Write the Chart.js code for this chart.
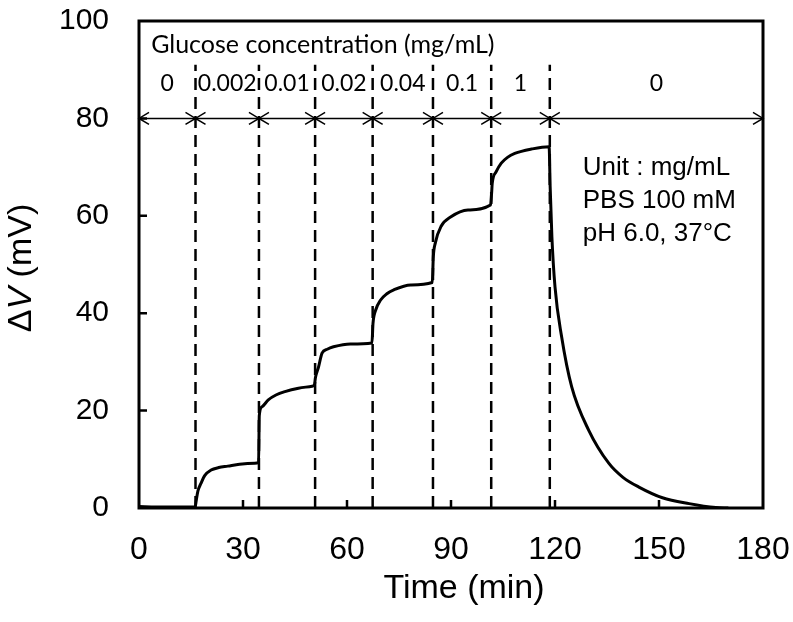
<!DOCTYPE html>
<html>
<head>
<meta charset="utf-8">
<script src="https://cdn.jsdelivr.net/npm/chart.js@4.4.1/dist/chart.umd.min.js"></script>
<style>
  html, body { margin: 0; padding: 0; background: #fff; }
  #wrap { width: 793px; height: 622px; }
</style>
</head>
<body>
<div id="wrap"><canvas id="sensorChart" width="793" height="622"></canvas></div>
<script>
const ARIAL = "'Liberation Sans', Arial, sans-serif";
const CALIBRI = "Lato, 'Open Sans', sans-serif";

// response curve (time in min, dV in mV)
const timeMin = [
  0, 5, 10, 16.2, 16.5, 17.0, 17.9, 19.0, 20.8, 23.0, 25.6, 29.0, 33.4, 34.5,
  34.7, 35.5, 37.3, 39.5, 42.1, 46.0, 49.9, 50.6,
  50.9, 51.8, 52.8, 54.3, 56.1, 61.0, 67.2,
  67.5, 68.2, 69.7, 71.5, 73.5, 78.4, 84.6,
  84.9, 85.5, 87.1, 90.0, 94.9, 101.4,
  101.7, 101.9, 103.0, 104.5, 106.3, 108.4, 113.2, 118.3,
  118.6, 119.1, 120.0, 121.9, 124.8, 129.7, 135.5, 139.6, 144.2, 151.0, 158.7, 166.4, 170.0
];
const deltaV = [
  0.3, 0.2, 0.2, 0.2, 1.5, 3.5, 5.1, 6.7, 7.8, 8.3, 8.6, 9.0, 9.2, 9.3,
  19.0, 20.8, 22.2, 23.2, 23.9, 24.6, 25.0, 25.3,
  26.8, 29.0, 31.8, 32.6, 33.1, 33.7, 33.9,
  37.9, 40.5, 42.7, 44.0, 44.8, 45.8, 46.3,
  51.6, 54.5, 57.8, 59.8, 61.2, 62.2,
  64.5, 66.7, 69.0, 70.8, 72.0, 72.8, 73.7, 74.2,
  66.0, 55.7, 45.4, 35.2, 24.9, 16.0, 9.2, 6.3, 4.3, 2.1, 0.9, 0.1, 0.0
];

// glucose additions (min) and concentration labels (mg/mL)
const additionTimes = [16.3, 34.6, 50.8, 67.4, 84.8, 101.6, 118.5];
const segmentEdges = [0, 16.3, 34.6, 50.8, 67.4, 84.8, 101.6, 118.5, 180];
const concLabels = ['0', '0.002', '0.01', '0.02', '0.04', '0.1', '1', '0'];
const conditionLines = ['Unit : mg/mL', 'PBS 100 mM', 'pH 6.0, 37\u00B0C'];

const xTicks = [0, 30, 60, 90, 120, 150, 180];
const yTicks = [0, 20, 40, 60, 80, 100];

const arrowLevel = 80;
const dashTop = 91;

const curve = timeMin.map((t, i) => ({ x: t, y: deltaV[i] }));

const dashSets = additionTimes.map(t => ({
  data: [{ x: t, y: 0 }, { x: t, y: dashTop }],
  borderColor: '#000',
  borderWidth: 2.5,
  borderDash: [12, 7],
  pointRadius: 0,
  fill: false
}));

const decorPlugin = {
  id: 'decor',
  beforeDraw(chart) {
    const c = chart.ctx;
    c.save();
    c.fillStyle = '#fff';
    c.fillRect(0, 0, chart.width, chart.height);
    c.restore();
  },
  afterDraw(chart) {
    const c = chart.ctx;
    const xs = chart.scales.x, ys = chart.scales.y;
    const a = chart.chartArea;
    c.save();

    // frame
    c.strokeStyle = '#000';
    c.lineWidth = 3;
    c.strokeRect(a.left, a.top, a.right - a.left, a.bottom - a.top);

    // inward ticks
    c.lineWidth = 2.5;
    c.beginPath();
    xTicks.slice(1, -1).forEach(v => {
      const px = xs.getPixelForValue(v);
      c.moveTo(px, a.bottom);
      c.lineTo(px, a.bottom - 8);
    });
    yTicks.slice(1, -1).forEach(v => {
      const py = ys.getPixelForValue(v);
      c.moveTo(a.left, py);
      c.lineTo(a.left + 8, py);
    });
    c.stroke();

    // arrow heads on the concentration row
    const ay = ys.getPixelForValue(arrowLevel);
    c.lineWidth = 1.5;
    c.beginPath();
    for (let i = 0; i < segmentEdges.length - 1; i++) {
      const l = xs.getPixelForValue(segmentEdges[i]);
      const r = xs.getPixelForValue(segmentEdges[i + 1]);
      c.moveTo(l + 10, ay - 6); c.lineTo(l, ay); c.lineTo(l + 10, ay + 6);
      c.moveTo(r - 10, ay - 6); c.lineTo(r, ay); c.lineTo(r - 10, ay + 6);
    }
    c.stroke();

    // concentration labels
    c.fillStyle = '#000';
    c.font = '23px ' + CALIBRI;
    c.textAlign = 'center';
    c.textBaseline = 'middle';
    const ly = ys.getPixelForValue(87.1);
    concLabels.forEach((lab, i) => {
      const mid = (segmentEdges[i] + segmentEdges[i + 1]) / 2;
      c.fillText(lab, xs.getPixelForValue(mid), ly);
    });
    c.textAlign = 'left';
    c.font = '25px ' + CALIBRI;
    c.fillText('Glucose concentration (mg/mL)', xs.getPixelForValue(3.5), ys.getPixelForValue(95.1));

    // conditions
    c.font = '26px ' + ARIAL;
    conditionLines.forEach((s, i) => {
      c.fillText(s, xs.getPixelForValue(128), ys.getPixelForValue(69.8 - i * 6.8));
    });

    // axis titles
    c.textAlign = 'center';
    c.font = '34px ' + ARIAL;
    c.fillText('Time (min)', 464, 589);

    c.translate(22, 268);
    c.rotate(-Math.PI / 2);
    const parts = [
      { t: '\u0394', f: '34px ' + ARIAL },
      { t: 'V', f: 'italic 34px ' + ARIAL },
      { t: ' (mV)', f: '34px ' + ARIAL }
    ];
    let total = 0;
    parts.forEach(p => { c.font = p.f; p.w = c.measureText(p.t).width; total += p.w; });
    let px = -total / 2;
    c.textAlign = 'left';
    parts.forEach(p => { c.font = p.f; c.fillText(p.t, px, 0); px += p.w; });

    c.restore();
  }
};

new Chart(document.getElementById('sensorChart'), {
  type: 'line',
  data: {
    datasets: [
      {
        data: curve,
        borderColor: '#000',
        borderWidth: 3,
        pointRadius: 0,
        fill: false,
        cubicInterpolationMode: 'monotone'
      },
      ...dashSets,
      {
        data: [{ x: 0, y: arrowLevel }, { x: 180, y: arrowLevel }],
        borderColor: '#000',
        borderWidth: 1.5,
        pointRadius: 0,
        fill: false
      }
    ]
  },
  options: {
    responsive: false,
    animation: false,
    events: [],
    layout: { padding: { left: 0, right: 30, top: 21, bottom: 0 } },
    plugins: { legend: { display: false }, tooltip: { enabled: false } },
    scales: {
      x: {
        type: 'linear',
        min: 0, max: 180,
        grid: { display: false, drawTicks: false },
        border: { display: false },
        ticks: {
          stepSize: 30, color: '#000', padding: 23,
          font: { size: 32, family: ARIAL }
        },
        afterFit(s) { s.height = 114; s.paddingLeft = 0; s.paddingRight = 0; }
      },
      y: {
        min: 0, max: 100,
        grid: { display: false, drawTicks: false },
        border: { display: false },
        ticks: {
          stepSize: 20, color: '#000', padding: 30,
          font: { size: 30, family: ARIAL }
        },
        afterFit(s) { s.width = 139; s.paddingTop = 0; s.paddingBottom = 0; }
      }
    }
  },
  plugins: [decorPlugin]
});
</script>
</body>
</html>
